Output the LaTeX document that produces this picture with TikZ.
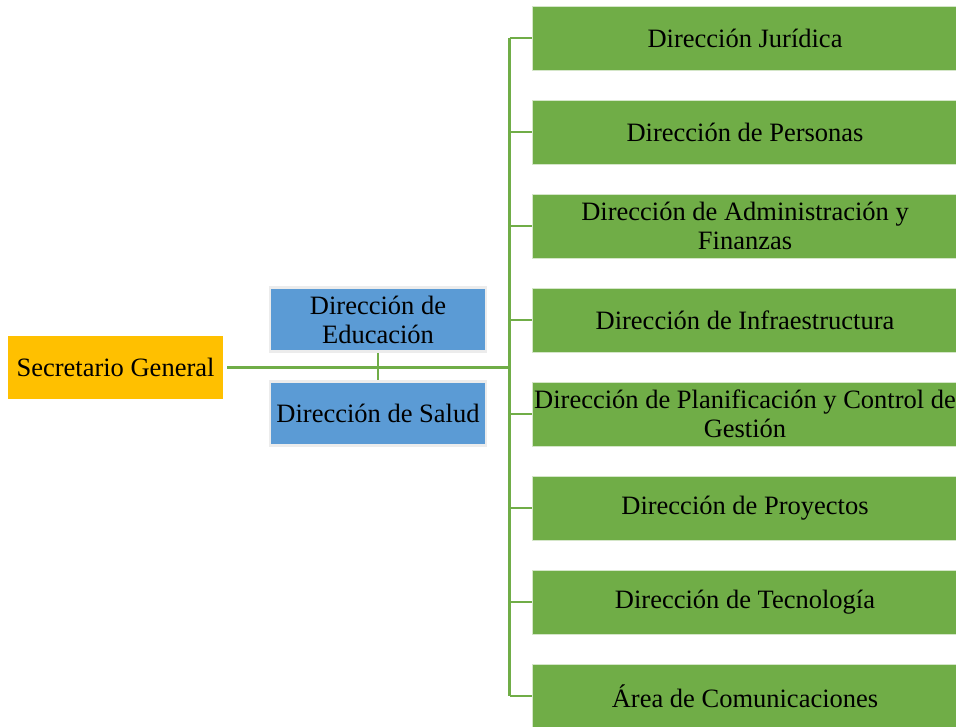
\documentclass[tikz,border=0pt]{standalone}
\usepackage{fontspec}
\setmainfont{Liberation Serif}
\usetikzlibrary{calc}
\definecolor{dirgreen}{HTML}{70AD47}
\definecolor{dirblue}{HTML}{5B9BD5}
\definecolor{secyellow}{HTML}{FFC000}
\tikzset{x=1pt,y=-1pt,
    every node/.style={
        font=\fontsize{26.5}{29}\selectfont,
        align=center,
        inner sep=2pt},
    secbox/.style={
        fill=secyellow,
        minimum width=215,
        minimum height=63},
    blubox/.style={
        fill=dirblue,
        draw=gray!15,
        line width=2.5pt,
        minimum width=216,
        minimum height=64},
    dirbox/.style={
        fill=dirgreen,
        draw=dirgreen!30!white,
        line width=0.6pt,
        minimum width=426,
        minimum height=64},
    conn/.style={
        draw=dirgreen,
        line width=2.8pt}}

\begin{document}
\begin{tikzpicture}
        \useasboundingbox (0,0) rectangle (956,726);

        \node[secbox] (sec) at (115.5,367) {Secretario General};
        \node[blubox] (edu) at (378,319.5) {Dirección de\\Educación};
        \node[blubox] (sal) at (378,413.5) {Dirección de Salud};

        \node[dirbox] (jur) at (745,38) {Dirección Jurídica};
        \node[dirbox] (per) at (745,132) {Dirección de Personas};
        \node[dirbox] (adm) at (745,226) {Dirección de Administración y\\Finanzas};
        \node[dirbox] (inf) at (745,320) {Dirección de Infraestructura};
        \node[dirbox] (pla) at (745,414) {Dirección de Planificación y Control de\\Gestión};
        \node[dirbox] (pro) at (745,508) {Dirección de Proyectos};
        \node[dirbox] (tec) at (745,602) {Dirección de Tecnología};
        \node[dirbox] (com) at (745,696) {Área de Comunicaciones};

        % trunk of the green column
        \coordinate (ttop) at (509.5,38);
        \coordinate (tbot) at (509.5,696);
        \coordinate (tmid) at (509.5,367.5);

        \draw[conn] (edu.south) -- (sal.north);
        \draw[conn,line width=3.4pt] ($(sec.east)+(4,0.5)$) -- (tmid);
        \draw[conn] (ttop) -- (tbot);

        \foreach \d in {jur,per,adm,inf,pla,pro,tec,com}
            \draw[conn] (ttop |- \d.west) -- (\d.west);
    \end{tikzpicture}
\end{document}
